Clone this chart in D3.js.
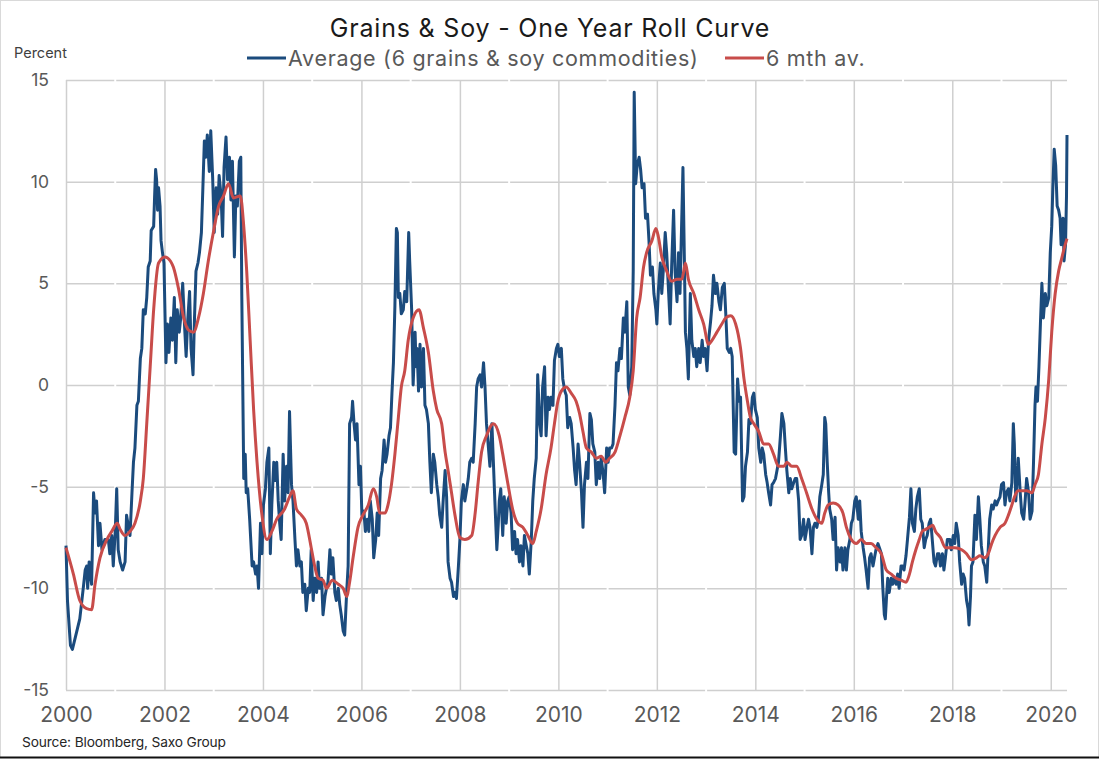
<!DOCTYPE html>
<html>
<head>
<meta charset="utf-8">
<script src="https://cdn.jsdelivr.net/npm/d3@7"></script>
<style>
  html, body { margin: 0; padding: 0; background: #fff; }
  svg { display: block; font-family: Inter, "Noto Sans", sans-serif; }
</style>
</head>
<body>
<svg id="chart" width="1099" height="759"></svg>
<script>
// weekly-ish readings, [decimal year, percent]
const avgA = [
  [2000.00,-7.9],[2000.03,-10.6],[2000.09,-12.8],[2000.13,-13.0],[2000.22,-12.1],[2000.28,-11.5],
  [2000.35,-10.0],[2000.39,-9.1],[2000.42,-8.9],[2000.44,-10.0],[2000.47,-8.7],[2000.52,-9.8],
  [2000.56,-5.3],[2000.59,-6.3],[2000.62,-5.7],[2000.66,-7.9],[2000.69,-6.8],[2000.73,-8.1],
  [2000.79,-7.6],[2000.86,-7.6],[2000.89,-8.3],[2000.93,-7.4],[2000.96,-8.9],[2001.00,-7.2],
  [2001.03,-5.1],[2001.06,-8.1],[2001.10,-8.7],[2001.15,-9.1],[2001.20,-8.7],[2001.23,-6.4],
  [2001.27,-7.0],[2001.30,-7.4],[2001.34,-5.3],[2001.37,-3.8],[2001.40,-3.1],[2001.44,-1.0],
  [2001.47,-0.8],[2001.51,1.3],[2001.54,1.8],[2001.57,3.7],[2001.61,3.5],[2001.64,4.3],
  [2001.67,5.8],[2001.71,6.1],[2001.73,7.6],[2001.78,7.8],[2001.80,9.3],[2001.82,10.6],
  [2001.84,10.1],[2001.86,8.6],[2001.88,9.7],[2001.91,8.8],[2001.93,7.1],[2001.96,6.5],
  [2001.99,6.0],[2002.03,1.1],[2002.06,3.0],[2002.09,1.6],[2002.13,3.3],[2002.16,2.2],
  [2002.20,4.3],[2002.23,1.1],[2002.26,3.7],[2002.30,2.6],[2002.33,3.3],[2002.37,5.0],
  [2002.41,2.8],[2002.44,1.4],[2002.47,3.1],[2002.51,4.6],[2002.54,1.8],[2002.58,0.5],
  [2002.61,3.3],[2002.64,5.6],[2002.68,6.0],[2002.71,6.5],[2002.75,7.5],[2002.78,9.7],
  [2002.81,12.0],[2002.84,11.2],[2002.87,12.3],[2002.91,10.5],[2002.94,12.5],[2002.98,10.1],
  [2003.01,7.5],[2003.05,9.7],[2003.08,8.4],[2003.11,10.3],[2003.15,9.3],[2003.18,7.3],
  [2003.21,10.7],[2003.25,12.2],[2003.28,10.1],[2003.32,11.2],[2003.35,9.1],[2003.38,11.0],
  [2003.42,6.3],[2003.45,9.3],[2003.48,8.8],[2003.52,11.0],[2003.55,11.2],[2003.57,4.5],
  [2003.61,-4.6],[2003.64,-3.4],[2003.66,-5.3],[2003.69,-5.1],[2003.73,-6.6],[2003.78,-8.9],
  [2003.81,-8.7],[2003.85,-9.3],[2003.88,-8.9],[2003.91,-10.0],[2003.95,-6.8],[2003.98,-8.3],
  [2004.01,-5.9],[2004.05,-5.1],[2004.08,-3.8],[2004.12,-3.1],[2004.15,-8.3],[2004.18,-5.9],
  [2004.22,-3.8],[2004.25,-4.7],[2004.28,-3.8],[2004.31,-5.7]
];
const avgB = [
  [2004.34,-6.8],[2004.37,-7.6],[2004.41,-3.4],[2004.44,-5.7],[2004.48,-4.0],[2004.51,-5.3],
  [2004.54,-1.3],[2004.58,-4.9],[2004.61,-5.7],[2004.65,-7.6],[2004.68,-8.9],[2004.71,-8.1],
  [2004.75,-8.9],[2004.78,-8.7],[2004.81,-10.2],[2004.85,-9.8],[2004.88,-11.1],[2004.92,-10.0],
  [2004.95,-10.2],[2004.98,-8.1],[2005.02,-10.6],[2005.05,-9.5],[2005.09,-10.2],[2005.12,-8.7],
  [2005.15,-10.0],[2005.19,-9.5],[2005.22,-11.3],[2005.26,-10.4],[2005.29,-10.0],[2005.32,-9.7],
  [2005.36,-8.1],[2005.39,-9.3],[2005.42,-8.5],[2005.46,-10.2],[2005.49,-10.6],[2005.53,-10.0],
  [2005.56,-10.8],[2005.59,-11.3],[2005.63,-12.1],[2005.66,-12.3],[2005.70,-10.2],[2005.73,-8.9],
  [2005.76,-1.9],[2005.80,-1.6],[2005.82,-0.8],[2005.85,-1.9],[2005.88,-2.7],[2005.91,-1.9],
  [2005.95,-4.9],[2005.98,-4.0],[2006.01,-6.4],[2006.05,-6.2],[2006.08,-7.2],[2006.12,-6.6],
  [2006.15,-7.2],[2006.18,-5.7],[2006.22,-6.6],[2006.25,-8.5],[2006.29,-7.6],[2006.32,-6.3],
  [2006.35,-7.4],[2006.39,-4.6],[2006.42,-4.2],[2006.46,-2.7],[2006.49,-3.8],[2006.52,-3.4],
  [2006.56,-2.5],[2006.59,-2.1],[2006.62,-0.4],[2006.65,1.1],[2006.68,3.9],[2006.71,7.7],
  [2006.73,7.5],[2006.75,4.3],[2006.78,4.5],[2006.81,3.5],[2006.85,3.7],[2006.88,4.6],
  [2006.92,4.1],[2006.96,7.5],[2006.98,6.1],[2007.02,3.7],[2007.05,0.0],[2007.09,2.6],
  [2007.11,0.9],[2007.13,1.8],[2007.16,-0.3],[2007.19,2.0],[2007.22,-0.1],[2007.26,1.8],
  [2007.29,-1.0],[2007.32,-1.2],[2007.36,-1.9],[2007.39,-3.8],[2007.42,-5.3],[2007.46,-3.4],
  [2007.49,-3.8],[2007.53,-4.9],[2007.56,-5.5],[2007.59,-6.4],[2007.63,-7.0],[2007.66,-5.7],
  [2007.70,-4.2],[2007.73,-5.5],[2007.76,-8.7],[2007.80,-9.5],[2007.83,-9.7],[2007.87,-10.4],
  [2007.90,-10.2],[2007.93,-10.5],[2007.97,-8.9],[2008.00,-7.6],[2008.03,-5.7],[2008.07,-4.9],
  [2008.10,-5.7],[2008.14,-5.1],[2008.17,-4.6],[2008.20,-3.8],[2008.24,-3.6],[2008.27,-3.8],
  [2008.31,-1.9],[2008.34,-0.1],[2008.37,0.3],[2008.41,0.5],[2008.44,-0.1],[2008.48,1.1],
  [2008.51,-0.1],[2008.54,-1.9],[2008.58,-3.1],[2008.61,-4.0],[2008.65,-1.9],[2008.68,-3.8],
  [2008.71,-5.7],[2008.75,-8.1],[2008.78,-6.8]
];
const avgC = [
  [2008.80,-5.7],[2008.83,-5.1],[2008.87,-7.4],[2008.90,-5.5],[2008.94,-6.8],[2008.97,-5.7],
  [2009.00,-5.5],[2009.04,-6.3],[2009.07,-8.1],[2009.11,-7.2],[2009.14,-8.3],[2009.17,-7.6],
  [2009.21,-8.7],[2009.24,-7.9],[2009.28,-8.9],[2009.31,-7.4],[2009.34,-7.8],[2009.38,-8.3],
  [2009.41,-9.3],[2009.45,-7.6],[2009.48,-5.7],[2009.51,-4.6],[2009.55,-3.6],[2009.58,0.5],
  [2009.62,-1.9],[2009.65,-2.5],[2009.68,-0.1],[2009.72,0.9],[2009.75,-2.5],[2009.79,-0.6],
  [2009.82,-1.2],[2009.85,-0.6],[2009.89,-1.0],[2009.92,1.2],[2009.96,1.8],[2009.99,2.0],
  [2010.02,1.4],[2010.06,1.8],[2010.09,0.3],[2010.13,-0.3],[2010.16,-0.5],[2010.19,-2.1],
  [2010.23,-1.6],[2010.26,-1.9],[2010.30,-3.1],[2010.33,-4.2],[2010.36,-4.9],[2010.40,-2.9],
  [2010.43,-3.8],[2010.47,-5.3],[2010.50,-7.0],[2010.53,-4.9],[2010.57,-3.8],[2010.60,-4.6],
  [2010.64,-1.4],[2010.67,-1.7],[2010.70,-2.9],[2010.74,-3.3],[2010.77,-4.9],[2010.81,-3.8],
  [2010.84,-4.6],[2010.87,-3.6],[2010.91,-4.4],[2010.94,-5.3],[2010.98,-3.1],[2011.01,-3.8],
  [2011.04,-3.1],[2011.08,-3.1],[2011.11,-2.9],[2011.15,-1.0],[2011.18,1.1],[2011.21,0.7],
  [2011.25,1.8],[2011.28,1.3],[2011.32,3.3],[2011.35,2.6],[2011.39,4.1],[2011.42,-0.1],
  [2011.45,-0.5],[2011.49,0.9],[2011.52,5.6],[2011.54,14.4],[2011.57,9.9],[2011.60,10.8],
  [2011.64,11.2],[2011.67,10.6],[2011.70,9.7],[2011.74,9.9],[2011.77,8.2],[2011.81,8.4],
  [2011.84,7.1],[2011.87,5.4],[2011.91,5.8],[2011.94,4.5],[2011.98,3.7],[2012.00,3.0],
  [2012.03,4.6],[2012.07,6.0],[2012.10,4.5],[2012.13,5.6],[2012.17,7.5],[2012.20,6.5],
  [2012.24,4.5],[2012.27,3.0],[2012.30,5.8],[2012.34,8.6],[2012.37,5.6],[2012.41,4.1],
  [2012.44,6.5],[2012.47,4.5],[2012.51,8.6],[2012.53,10.7],[2012.56,6.0],[2012.58,2.6],
  [2012.61,1.8],[2012.64,0.3],[2012.68,4.5],[2012.71,2.2],[2012.75,1.4],[2012.78,1.8],
  [2012.81,0.9],[2012.85,1.8],[2012.88,1.1],[2012.92,2.2],[2012.95,1.4],[2012.98,1.8],
  [2013.02,0.7],[2013.05,2.2],[2013.09,3.1],[2013.12,3.9],[2013.15,5.4],[2013.19,4.5],
  [2013.22,5.0],[2013.26,4.1],[2013.29,3.7]
];
const avgD = [
  [2013.33,4.8],[2013.37,5.0],[2013.40,3.5],[2013.43,1.8],[2013.47,1.6],[2013.50,1.8],
  [2013.53,1.4],[2013.57,-3.3],[2013.60,-3.4],[2013.64,0.3],[2013.67,-0.8],[2013.70,-0.6],
  [2013.74,-5.7],[2013.77,-5.5],[2013.80,-4.0],[2013.84,-3.3],[2013.87,-1.7],[2013.90,-1.9],
  [2013.94,-0.6],[2013.97,-0.4],[2014.00,-1.2],[2014.04,-1.6],[2014.07,-3.1],[2014.11,-3.8],
  [2014.14,-3.1],[2014.17,-3.4],[2014.21,-4.4],[2014.24,-4.8],[2014.27,-5.3],[2014.31,-5.9],
  [2014.34,-4.9],[2014.37,-4.8],[2014.41,-4.6],[2014.44,-4.2],[2014.47,-3.8],[2014.51,-2.5],
  [2014.54,-1.4],[2014.58,-1.9],[2014.61,-3.1],[2014.64,-4.2],[2014.68,-5.3],[2014.71,-4.6],
  [2014.74,-5.1],[2014.78,-4.8],[2014.81,-4.6],[2014.84,-4.6],[2014.88,-5.7],[2014.91,-7.6],
  [2014.94,-7.4],[2014.98,-6.6],[2015.01,-7.6],[2015.05,-7.0],[2015.08,-6.6],[2015.11,-7.0],
  [2015.15,-8.3],[2015.18,-7.0],[2015.21,-6.8],[2015.25,-7.0],[2015.28,-6.6],[2015.31,-5.5],
  [2015.35,-4.9],[2015.38,-4.4],[2015.41,-1.6],[2015.43,-1.9],[2015.46,-3.8],[2015.49,-5.3],
  [2015.51,-6.1],[2015.55,-6.6],[2015.58,-7.6],[2015.62,-6.5],[2015.65,-9.1],[2015.68,-8.0],
  [2015.72,-8.7],[2015.75,-8.0],[2015.78,-9.1],[2015.82,-8.0],[2015.85,-9.1],[2015.88,-8.1],
  [2015.92,-7.6],[2015.95,-6.8],[2015.98,-6.6],[2016.02,-5.7],[2016.05,-5.5],[2016.09,-6.6],
  [2016.12,-5.7],[2016.15,-7.2],[2016.19,-8.0],[2016.22,-8.5],[2016.25,-9.1],[2016.29,-10.0],
  [2016.32,-8.5],[2016.35,-8.3],[2016.39,-8.9],[2016.42,-8.5],[2016.45,-8.1],[2016.49,-7.8],
  [2016.52,-8.0],[2016.56,-8.3],[2016.59,-10.0],[2016.62,-11.3],[2016.64,-11.5],[2016.67,-10.2],
  [2016.69,-9.5],[2016.72,-10.2],[2016.76,-9.5],[2016.79,-9.8],[2016.82,-9.5],[2016.86,-9.8],
  [2016.89,-9.3],[2016.92,-10.0],[2016.96,-8.9],[2016.99,-8.9],[2017.02,-9.1],[2017.06,-8.4],
  [2017.09,-7.6],[2017.13,-6.5],[2017.16,-5.1],[2017.19,-6.8],[2017.23,-7.2],[2017.26,-6.1],
  [2017.29,-5.5],[2017.33,-5.1],[2017.36,-6.6],[2017.39,-6.8],[2017.43,-8.0],[2017.46,-7.6],
  [2017.49,-7.4],[2017.53,-6.8],[2017.56,-6.6],[2017.60,-7.8],[2017.63,-8.7],[2017.66,-8.9],
  [2017.70,-8.3],[2017.73,-8.3],[2017.76,-8.9],[2017.80,-8.3],[2017.83,-9.1],[2017.86,-8.5],
  [2017.90,-7.6]
];
const avgE = [
  [2017.95,-7.6],[2017.98,-8.1],[2018.02,-7.4],[2018.05,-7.8],[2018.08,-6.8],[2018.12,-7.4],
  [2018.15,-8.7],[2018.19,-9.8],[2018.22,-9.3],[2018.25,-9.5],[2018.29,-10.6],[2018.32,-11.0],
  [2018.34,-11.8],[2018.37,-10.4],[2018.39,-8.9],[2018.42,-8.7],[2018.46,-6.4],[2018.49,-7.6],
  [2018.53,-5.5],[2018.56,-6.6],[2018.59,-7.9],[2018.63,-8.7],[2018.66,-8.9],[2018.70,-9.7],
  [2018.73,-8.1],[2018.76,-6.6],[2018.80,-5.9],[2018.83,-6.1],[2018.87,-5.7],[2018.90,-5.9],
  [2018.93,-5.7],[2018.97,-5.5],[2019.00,-4.9],[2019.04,-4.8],[2019.07,-5.9],[2019.10,-5.3],
  [2019.14,-5.1],[2019.17,-5.7],[2019.21,-4.8],[2019.24,-1.9],[2019.26,-2.9],[2019.29,-5.7],
  [2019.31,-4.9],[2019.34,-3.6],[2019.38,-5.3],[2019.41,-6.3],[2019.45,-6.6],[2019.48,-5.7],
  [2019.51,-4.6],[2019.55,-5.3],[2019.58,-6.6],[2019.62,-6.2],[2019.65,-3.8],[2019.68,-1.0],
  [2019.70,-0.1],[2019.73,-0.8],[2019.76,0.9],[2019.79,3.0],[2019.82,5.0],[2019.85,3.3],
  [2019.89,4.5],[2019.92,3.9],[2019.96,4.3],[2019.99,6.5],[2020.02,7.8],[2020.04,9.5],
  [2020.07,11.6],[2020.10,10.8],[2020.13,8.8],[2020.16,8.6],[2020.19,8.2],[2020.21,6.9],
  [2020.25,8.2],[2020.27,6.1],[2020.30,6.9],[2020.32,9.3],[2020.33,12.3]
];

// 6 month average
const maA = [
  [2000.00,-8.0],[2000.15,-9.3],[2000.28,-10.6],[2000.42,-11.0],[2000.52,-11.05],[2000.59,-9.8],
  [2000.69,-8.5],[2000.83,-7.6],[2000.93,-7.2],[2001.04,-6.8],[2001.10,-7.1],[2001.20,-7.4],
  [2001.30,-7.2],[2001.40,-6.8],[2001.51,-5.7],[2001.57,-4.6],[2001.64,-1.9],[2001.71,0.9],
  [2001.78,3.7],[2001.88,6.0],[2002.01,6.3],[2002.12,6.1],[2002.18,5.8],[2002.28,4.8],
  [2002.39,3.3],[2002.49,2.7],[2002.59,2.6],[2002.69,3.3],[2002.79,4.5],[2002.89,6.1],
  [2003.00,7.6],[2003.10,8.8],[2003.20,9.3],[2003.30,9.9],[2003.40,9.2],[2003.54,9.3],
  [2003.61,7.8],[2003.67,5.6],[2003.74,2.2],[2003.81,-1.2],[2003.88,-3.8],[2003.98,-6.4],
  [2004.08,-7.6],[2004.18,-7.2],[2004.28,-6.6]
];
const maB = [
  [2004.44,-6.1],[2004.54,-5.5],[2004.61,-5.2],[2004.68,-6.1],[2004.78,-6.4],[2004.88,-6.8],
  [2004.98,-8.0],[2005.05,-8.9],[2005.12,-9.5],[2005.22,-9.6],[2005.29,-10.0],[2005.41,-9.6],
  [2005.53,-9.8],[2005.63,-10.0],[2005.70,-10.4],[2005.76,-9.7],[2005.83,-8.5],[2005.93,-7.0],
  [2006.03,-6.4],[2006.14,-5.9],[2006.24,-5.1],[2006.31,-5.5],[2006.37,-6.3],[2006.48,-6.3],
  [2006.54,-5.9],[2006.61,-4.9],[2006.68,-3.4],[2006.75,-1.6],[2006.81,-0.1],[2006.88,0.7],
  [2006.95,2.2],[2007.05,3.3],[2007.17,3.7],[2007.26,2.8],[2007.36,1.6],[2007.46,-0.3],
  [2007.53,-1.2],[2007.63,-1.9],[2007.70,-3.3],[2007.76,-4.2],[2007.83,-5.3],[2007.90,-6.4],
  [2008.00,-7.5],[2008.10,-7.6],[2008.24,-7.4],[2008.31,-6.3],[2008.37,-4.8],[2008.44,-3.3],
  [2008.54,-2.5],[2008.68,-1.9]
];
const maC = [
  [2008.80,-2.5],[2008.87,-3.4],[2008.97,-4.8],[2009.07,-6.1],[2009.17,-6.8],[2009.28,-7.0],
  [2009.38,-7.4],[2009.48,-7.8],[2009.55,-7.2],[2009.65,-6.1],[2009.75,-4.4],[2009.85,-3.1],
  [2009.92,-1.9],[2009.99,-0.8],[2010.06,-0.3],[2010.16,-0.1],[2010.26,-0.4],[2010.36,-0.8],
  [2010.43,-1.4],[2010.50,-2.3],[2010.57,-3.1],[2010.67,-3.3],[2010.77,-3.6],[2010.87,-3.5],
  [2010.96,-3.8],[2011.04,-3.6],[2011.15,-3.3],[2011.25,-2.5],[2011.35,-1.6],[2011.45,-0.6],
  [2011.52,0.7],[2011.59,3.3],[2011.66,4.3],[2011.73,5.8],[2011.79,6.5],[2011.90,7.1],
  [2011.98,7.7],[2012.03,7.3],[2012.10,6.3],[2012.20,5.6],[2012.30,5.1],[2012.41,5.2],
  [2012.51,5.2],[2012.58,6.0],[2012.64,5.2],[2012.75,4.5],[2012.85,3.7],[2012.95,3.0],
  [2013.05,2.0],[2013.12,2.2],[2013.22,2.6],[2013.32,3.0]
];
const maD = [
  [2013.40,3.3],[2013.50,3.4],[2013.60,3.0],[2013.70,1.8],[2013.77,0.3],[2013.84,-0.8],
  [2013.90,-1.6],[2013.97,-1.9],[2014.07,-2.3],[2014.17,-2.9],[2014.27,-2.9],[2014.37,-3.4],
  [2014.47,-4.0],[2014.58,-4.0],[2014.64,-3.8],[2014.74,-4.0],[2014.84,-4.0],[2014.94,-4.6],
  [2015.04,-5.3],[2015.15,-6.1],[2015.25,-6.6],[2015.35,-6.8],[2015.41,-6.3],[2015.48,-5.9],
  [2015.58,-5.8],[2015.68,-5.9],[2015.78,-6.3],[2015.85,-7.0],[2015.95,-7.6],[2016.05,-7.8],
  [2016.15,-7.6],[2016.25,-7.8],[2016.35,-7.8],[2016.45,-8.0],[2016.56,-8.3],[2016.66,-9.1],
  [2016.76,-9.3],[2016.86,-9.5],[2016.96,-9.6],[2017.06,-9.7],[2017.13,-9.3],[2017.19,-8.7],
  [2017.26,-8.1],[2017.33,-7.6],[2017.39,-7.2],[2017.46,-7.1],[2017.53,-7.0],[2017.60,-6.9],
  [2017.66,-7.2],[2017.76,-7.5],[2017.86,-8.0]
];
const maE = [
  [2017.95,-8.0],[2018.05,-8.0],[2018.19,-8.1],[2018.29,-8.3],[2018.39,-8.6],[2018.49,-8.5],
  [2018.56,-8.4],[2018.66,-8.5],[2018.73,-8.3],[2018.80,-7.8],[2018.87,-7.4],[2018.97,-7.0],
  [2019.07,-6.8],[2019.14,-6.4],[2019.21,-5.9],[2019.28,-5.4],[2019.34,-5.2],[2019.41,-5.2],
  [2019.51,-5.2],[2019.62,-5.3],[2019.68,-4.9],[2019.75,-4.4],[2019.82,-2.9],[2019.89,-1.6],
  [2019.96,0.3],[2020.02,2.6],[2020.09,4.5],[2020.16,5.6],[2020.23,6.3],[2020.27,6.7],
  [2020.33,7.2]
];

const yearTicks = [2000, 2002, 2004, 2006, 2008, 2010, 2012, 2014, 2016, 2018, 2020];
const oddYears = [2001, 2003, 2005, 2007, 2009, 2011, 2013, 2015, 2017, 2019];
const valueTicks = [-15, -10, -5, 0, 5, 10, 15];

const avgSeries = [].concat(avgA, avgB, avgC, avgD, avgE);
const maSeries = [].concat(maA, maB, maC, maD, maE);

const svg = d3.select('#chart');
const plotL = 66, plotR = 1067, plotT = 80, plotB = 690;

const x = d3.scaleLinear().domain([2000, 2020.33]).range([plotL, plotR]);
const y = d3.scaleLinear().domain([-15, 15]).range([plotB, plotT]);

// outer frame
svg.append('rect')
  .attr('x', 0.5).attr('y', 0.5).attr('width', 1098).attr('height', 757)
  .attr('fill', 'none').attr('stroke', '#d9d9d9');
svg.append('line')
  .attr('x1', 0).attr('x2', 1099).attr('y1', 757.5).attr('y2', 757.5)
  .attr('stroke', '#111').attr('stroke-width', 2);

// grid
const gy = svg.append('g')
  .attr('transform', `translate(${plotL},0)`)
  .call(d3.axisLeft(y).tickValues(valueTicks).tickSize(-(plotR - plotL)).tickFormat(''));
gy.select('.domain').remove();
gy.selectAll('line').attr('stroke', '#cfcfcf').attr('stroke-width', 1.5);

const gx = svg.append('g')
  .attr('transform', `translate(0,${plotB})`)
  .call(d3.axisBottom(x).tickValues(yearTicks).tickSize(-(plotB - plotT)).tickFormat(''));
gx.select('.domain').remove();
gx.selectAll('line').attr('stroke', '#cfcfcf').attr('stroke-width', 1.5);

// small white breaks at odd years
svg.append('g').selectAll('line').data(oddYears).join('line')
  .attr('x1', d => x(d)).attr('x2', d => x(d))
  .attr('y1', plotT - 2).attr('y2', plotB + 2)
  .attr('stroke', '#fff').attr('stroke-width', 2);

// axis labels
const ay = svg.append('g')
  .attr('transform', `translate(${plotL},0)`)
  .call(d3.axisLeft(y).tickValues(valueTicks).tickSize(0).tickPadding(17).tickFormat(d => String(d)));
ay.select('.domain').remove();
ay.selectAll('text').attr('font-size', 17.5).attr('fill', '#595959').attr('font-family', 'Inter');

const ax = svg.append('g')
  .attr('transform', `translate(0,${plotB})`)
  .call(d3.axisBottom(x).tickValues(yearTicks).tickSize(0).tickPadding(17).tickFormat(d3.format('d')));
ax.select('.domain').remove();
ax.selectAll('text').attr('font-size', 21).attr('fill', '#595959').attr('font-family', 'Inter');

// series
const blue = '#1b4b7d', red = '#c84c4a';

const avgLine = d3.line().x(d => x(d[0])).y(d => y(d[1]));
const maLine = d3.line().x(d => x(d[0])).y(d => y(d[1])).curve(d3.curveMonotoneX);

svg.append('path').datum(avgSeries)
  .attr('d', avgLine).attr('fill', 'none')
  .attr('stroke', blue).attr('stroke-width', 3).attr('stroke-linejoin', 'round');
svg.append('path').datum(maSeries)
  .attr('d', maLine).attr('fill', 'none')
  .attr('stroke', red).attr('stroke-width', 3).attr('stroke-linejoin', 'round');

// titles
svg.append('text')
  .attr('x', 550).attr('y', 37).attr('text-anchor', 'middle')
  .attr('font-size', 25).attr('letter-spacing', 0.8).attr('fill', '#1a1a1a')
  .text('Grains & Soy - One Year Roll Curve');

svg.append('text')
  .attr('x', 14).attr('y', 58)
  .attr('font-size', 14.5).attr('fill', '#404040')
  .text('Percent');

const legend = [
  { label: 'Average (6 grains & soy commodities)', color: blue, x: 247 },
  { label: '6 mth av.', color: red, x: 725 }
];
const lg = svg.append('g').selectAll('g').data(legend).join('g')
  .attr('transform', d => `translate(${d.x},58)`);
lg.append('line').attr('x1', 0).attr('x2', 39).attr('y1', 0).attr('y2', 0)
  .attr('stroke', d => d.color).attr('stroke-width', 3);
lg.append('text').attr('x', 41).attr('y', 7.5)
  .attr('font-size', 21.5).attr('letter-spacing', 0.7).attr('fill', '#595959')
  .text(d => d.label);

svg.append('text')
  .attr('x', 22).attr('y', 747)
  .attr('font-size', 13.75).attr('letter-spacing', -0.15).attr('fill', '#262626')
  .text('Source: Bloomberg, Saxo Group');
</script>
</body>
</html>
